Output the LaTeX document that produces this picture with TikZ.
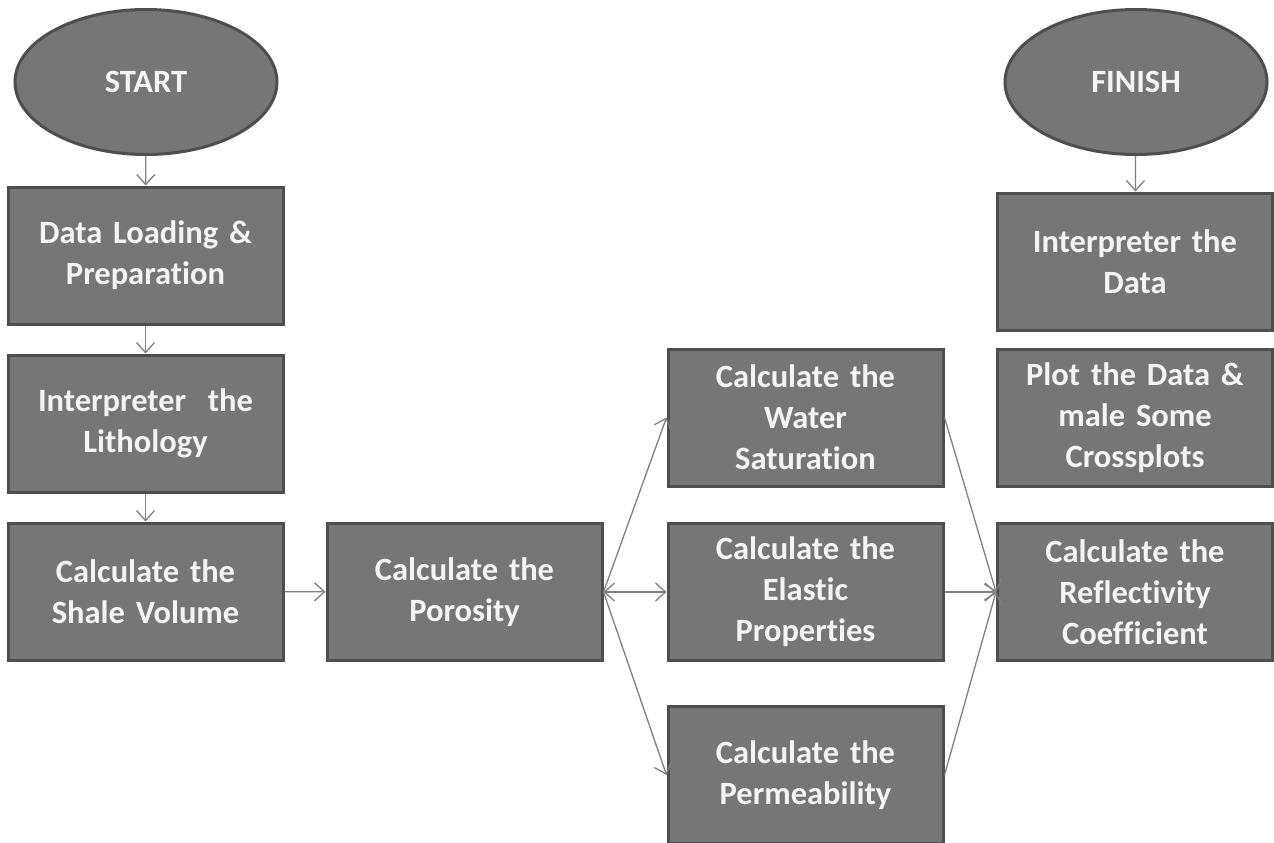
\documentclass[tikz,border=0pt]{standalone}
\usepackage{fontspec}
\setmainfont{Carlito}[Ligatures=NoCommon]
\usetikzlibrary{shapes.geometric,arrows.meta}
\definecolor{boxfill}{HTML}{767676}
\definecolor{boxedge}{HTML}{4E4E4E}
\definecolor{boxtext}{HTML}{F4F4F4}
\definecolor{linkcol}{HTML}{808080}
\newcommand{\boxfont}{\fontsize{32.5}{41}\selectfont\bfseries\spaceskip=0.17em\relax}
\tikzset{
  stepbox/.style={rectangle, draw=boxedge, line width=3pt, fill=boxfill,
    minimum width=275pt, minimum height=137pt, align=center, text width=270pt,
    text=boxtext, font=\boxfont, inner sep=0pt},
  terminal/.style={ellipse, draw=boxedge, line width=3pt, fill=boxfill,
    minimum width=262pt, minimum height=145pt, inner sep=0pt,
    text=boxtext, font=\boxfont},
  link/.style={draw=linkcol, line width=1.3pt,
    -{Straight Barb[length=10pt,width=18pt,line width=1.3pt]}},
  dlink/.style={draw=linkcol, line width=1.3pt,
    {Straight Barb[length=10pt,width=18pt,line width=1.3pt]}-{Straight Barb[length=10pt,width=18pt,line width=1.3pt]}}
}
\begin{document}
\begin{tikzpicture}[x=1pt,y=-1pt]
\useasboundingbox (0,0) rectangle (1274,843);
\fill[white] (0,0) rectangle (1274,843);

% terminals
\node[terminal] (start) at (146,82) {START};
\node[terminal] (finish) at (1136,82) {FINISH};

% left column
\node[stepbox] (load) at (145.5,255.5) {Data Loading \&\\Preparation};
\node[stepbox] (litho) at (145.5,423.5) {Interpreter~~the\\Lithology};
\node[stepbox] (shale) at (145.5,591.5) {Calculate the\\Shale Volume};

% porosity
\node[stepbox] (poro) at (464.5,592) {Calculate the\\Porosity};

% middle column
\node[stepbox] (water) at (805.5,417.5) {Calculate the\\Water\\Saturation};
\node[stepbox] (elastic) at (805.5,592) {Calculate the\\Elastic\\Properties};
\node[stepbox] (perm) at (805.5,775) {Calculate the\\Permeability};

% right column
\node[stepbox] (idata) at (1135,261.5) {Interpreter the\\Data};
\node[stepbox] (plot) at (1135,417.5) {Plot the Data \&\\male Some\\Crossplots};
\node[stepbox] (refl) at (1135,592) {Calculate the\\Reflectivity\\Coefficient};

% connectors
\draw[link] (start) -- (load);
\draw[link] (load) -- (litho);
\draw[link] (litho) -- (shale);
\draw[link] (shale) -- (poro);
\draw[link] (poro.east) -- (water.west);
\draw[dlink] (poro.east) -- (elastic.west);
\draw[link] (poro.east) -- (perm.west);
\draw[link] (water.east) -- (refl.west);
\draw[link] (elastic.east) -- (refl.west);
\draw[link] (perm.east) -- (refl.west);
\draw[link] (finish) -- (idata);
\end{tikzpicture}
\end{document}
